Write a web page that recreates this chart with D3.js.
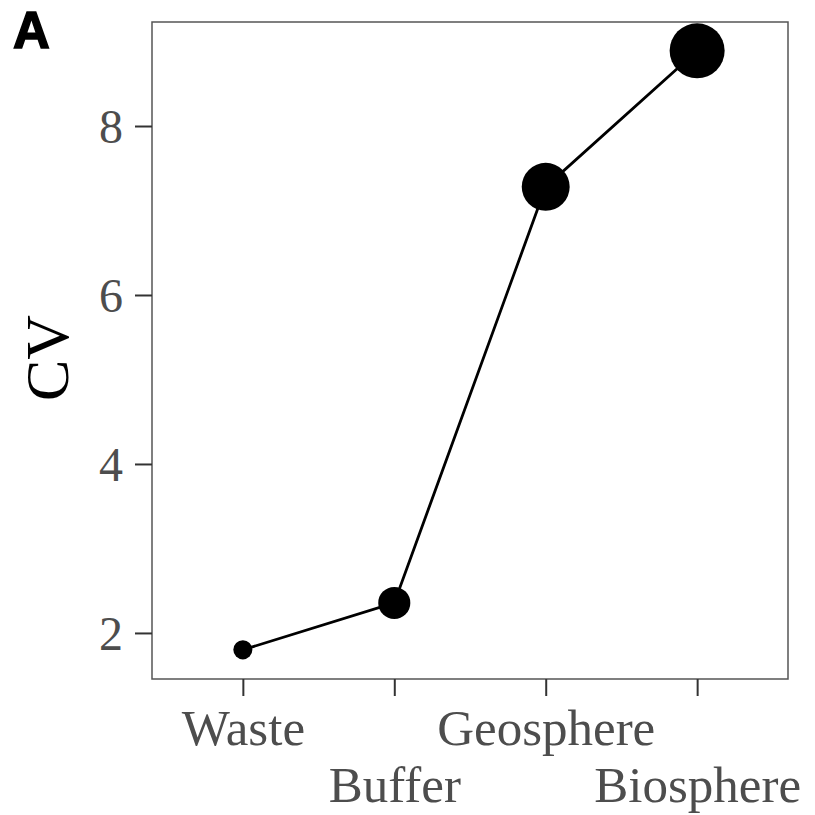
<!DOCTYPE html>
<html>
<head>
<meta charset="utf-8">
<script src="https://cdn.jsdelivr.net/npm/d3@7"></script>
<style>
  html, body { margin: 0; padding: 0; background: #fff; }
  svg { display: block; }
</style>
</head>
<body>
<svg id="chart" width="815" height="815"></svg>
<script>
// Compartments along the chain and their coefficient of variation
const categories = ["Waste", "Buffer", "Geosphere", "Biosphere"];
const cvValues = [1.80, 2.355, 7.28, 8.89];
// Relative weight encoded as point area
const weights = [0.12, 0.34, 0.76, 1.0];
const yTicks = [2, 4, 6, 8];

const svg = d3.select("#chart");
const panel = { left: 152, right: 788, top: 22, bottom: 679 };

// Discrete axis with 0.6 expansion on each side
const inset = (panel.right - panel.left) * 0.6 / 4.2;
const x = d3.scalePoint()
  .domain(categories)
  .range([panel.left + inset, panel.right - inset])
  .padding(0);

const y = d3.scaleLinear()
  .domain([1.455, 9.231])
  .range([panel.bottom, panel.top]);

const r = d3.scaleSqrt().domain([0, 1]).range([0, 27.5]);

const serif = "'Liberation Serif', 'DejaVu Serif', serif";
const axisGrey = "#4d4d4d";

// Panel border
svg.append("rect")
  .attr("x", panel.left).attr("y", panel.top)
  .attr("width", panel.right - panel.left)
  .attr("height", panel.bottom - panel.top)
  .attr("fill", "#fff")
  .attr("stroke", "#555").attr("stroke-width", 1.5);

// Y axis
const yAxis = svg.append("g")
  .attr("transform", `translate(${panel.left},0)`)
  .call(d3.axisLeft(y).tickValues(yTicks).tickSize(17).tickPadding(12).tickFormat(d3.format("d")));
yAxis.select(".domain").remove();
yAxis.selectAll(".tick line").attr("stroke", "#333").attr("stroke-width", 2);
yAxis.selectAll(".tick text")
  .attr("fill", axisGrey)
  .style("font-family", serif)
  .style("font-size", "48px")
  .attr("dy", "0.34em");

// X axis with staggered labels
const xAxis = svg.append("g")
  .attr("transform", `translate(0,${panel.bottom})`)
  .call(d3.axisBottom(x).tickSize(17).tickPadding(0));
xAxis.select(".domain").remove();
xAxis.selectAll(".tick line").attr("stroke", "#333").attr("stroke-width", 2);
xAxis.selectAll(".tick text")
  .attr("fill", axisGrey)
  .style("font-family", serif)
  .style("font-size", "51px")
  .attr("y", (d, i) => i % 2 === 0 ? 66 : 123)
  .attr("dy", 0);

// Y axis title
svg.append("text")
  .attr("transform", "translate(68,358) rotate(-90)")
  .attr("text-anchor", "middle")
  .style("font-family", serif)
  .style("font-size", "62px")
  .attr("fill", "#000")
  .text("CV");

// Panel tag
svg.append("text")
  .attr("x", 13).attr("y", 48)
  .style("font-family", "'Liberation Sans', Arial, sans-serif")
  .style("font-weight", "900")
  .style("font-size", "51px")
  .attr("fill", "#000")
  .attr("stroke", "#000").attr("stroke-width", 1.5)
  .text("A");

const data = categories.map((c, i) => ({ c, v: cvValues[i], w: weights[i] }));

// Connecting line
svg.append("path")
  .datum(data)
  .attr("fill", "none")
  .attr("stroke", "#000")
  .attr("stroke-width", 2.8)
  .attr("d", d3.line().x(d => x(d.c)).y(d => y(d.v)));

// Points
svg.append("g").selectAll("circle")
  .data(data)
  .join("circle")
  .attr("cx", d => x(d.c))
  .attr("cy", d => y(d.v))
  .attr("r", d => r(d.w))
  .attr("fill", "#000");
</script>
</body>
</html>
